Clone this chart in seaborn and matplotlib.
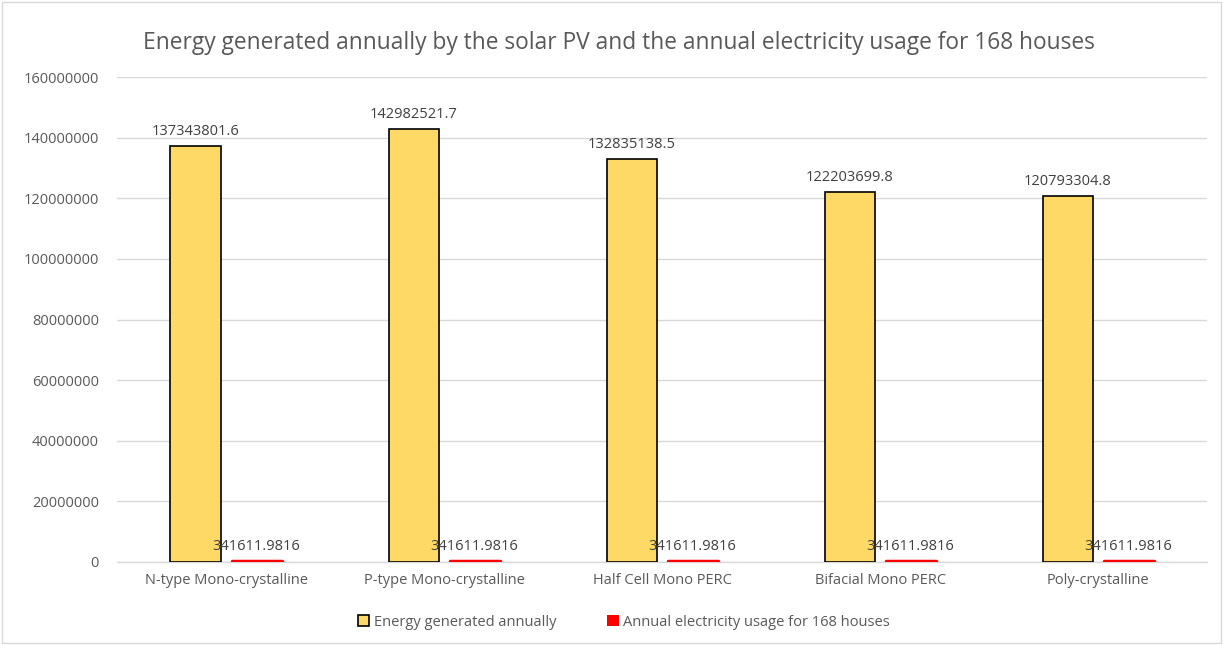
import matplotlib
matplotlib.use("Agg")
import matplotlib.pyplot as plt
import seaborn as sns
import pandas as pd
from matplotlib.patches import Rectangle, Patch

categories = ["N-type Mono-crystalline", "P-type Mono-crystalline", "Half Cell Mono PERC",
              "Bifacial Mono PERC", "Poly-crystalline"]
energy = [137343801.6, 142982521.7, 132835138.5, 122203699.8, 120793304.8]
usage = [341611.9816] * 5
energy_labels = ["137343801.6", "142982521.7", "132835138.5", "122203699.8", "120793304.8"]
usage_labels = ["341611.9816"] * 5
series = ["Energy generated annually", "Annual electricity usage for 168 houses"]
yticks = list(range(0, 160000001, 20000000))

df = pd.DataFrame({
    "category": categories * 2,
    "value": energy + usage,
    "series": [series[0]] * 5 + [series[1]] * 5,
})

sns.set_theme(style="white")
plt.rcParams['font.family'] = ['Open Sans', 'DejaVu Sans']
text_col = "#595959"

fig = plt.figure(figsize=(12.23, 6.45), dpi=100)
ax = fig.add_axes([0.0957, 0.1287, 0.8913, 0.7519])

sns.barplot(data=df, x="category", y="value", hue="series", order=categories,
            hue_order=series, palette=["#FFD966", "#FF0000"], width=0.56, gap=0.18,
            ax=ax, legend=False, saturation=1)

for i, c in enumerate(ax.containers):
    labels = energy_labels if i == 0 else usage_labels
    for bar in c:
        if i == 0:
            bar.set_edgecolor("black")
            bar.set_linewidth(1.2)
        else:
            bar.set_facecolor("#FF0000")
            bar.set_edgecolor("#FF0000")
            bar.set_linewidth(2.5)
            bar.set_joinstyle("round")
    ax.bar_label(c, labels=labels, padding=5, fontsize=10.5, color="#404040")

ax.set_ylim(0, 160000000)
ax.set_yticks(yticks)
ax.set_yticklabels([str(v) for v in yticks], fontsize=10.5, color=text_col)
ax.tick_params(axis="x", labelsize=10.5, colors=text_col, length=0, pad=8)
ax.tick_params(axis="y", length=0, pad=13)
ax.set_xlabel("")
ax.set_ylabel("")
ax.yaxis.grid(True, color="#D9D9D9", linewidth=1)
ax.set_axisbelow(True)
for s in ["left", "right", "top"]:
    ax.spines[s].set_visible(False)
ax.spines["bottom"].set_color("#D9D9D9")
ax.spines["bottom"].set_linewidth(1)
ax.spines["bottom"].set_zorder(0.5)

fig.suptitle("Energy generated annually by the solar PV and the annual electricity usage for 168 houses",
             x=0.506, y=0.952, fontsize=16.4, color=text_col)

handles = [Patch(facecolor="#FFD966", edgecolor="black", linewidth=1.2),
           Patch(facecolor="#FF0000", edgecolor="none")]
fig.legend(handles, series, loc="center", bbox_to_anchor=(0.51, 0.035), ncol=2, frameon=False,
           fontsize=10.5, labelcolor=text_col, handlelength=0.8, handleheight=0.8,
           handletextpad=0.3, columnspacing=3.5)

fig.patches.append(Rectangle((0.002, 0.003), 0.996, 0.994, transform=fig.transFigure,
                             fill=False, edgecolor="#D9D9D9", linewidth=1))

fig.savefig("out.png", dpi=100)
